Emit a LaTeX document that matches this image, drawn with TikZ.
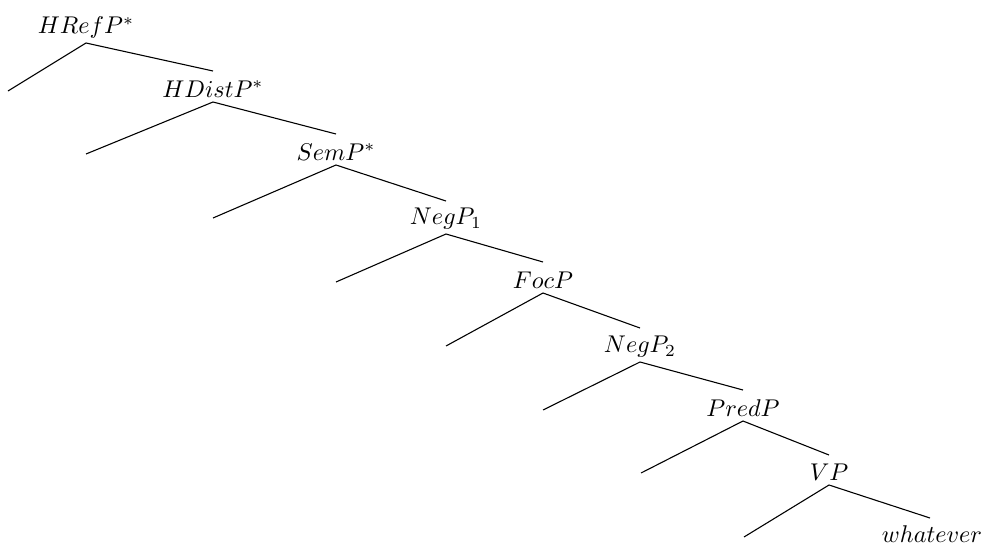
\documentclass[tikz,border=0pt]{standalone}
\begin{document}
\begin{tikzpicture}[x=0.4132pt,y=-0.4132pt,
  lbl/.style={anchor=south,inner sep=1.6pt},
  edge/.style={draw=black,line width=0.45pt}]
\useasboundingbox (0,0) rectangle (984,546);
% apexes
\coordinate (a1) at (86,43);
\coordinate (a2) at (213,102);
\coordinate (a3) at (336,165);
\coordinate (a4) at (446,234);
\coordinate (a5) at (543,293);
\coordinate (a6) at (640,362);
\coordinate (a7) at (743,421);
\coordinate (a8) at (829,485);
% right ends
\coordinate (r1) at (213,71);
\coordinate (r2) at (336,134);
\coordinate (r3) at (446,201);
\coordinate (r4) at (543,262);
\coordinate (r5) at (640,328);
\coordinate (r6) at (743,390);
\coordinate (r7) at (829,455);
\coordinate (r8) at (930,518);
% left ends
\coordinate (l1) at (8,91);
\coordinate (l2) at (86,154);
\coordinate (l3) at (213,218);
\coordinate (l4) at (336,282);
\coordinate (l5) at (446,346);
\coordinate (l6) at (543,410);
\coordinate (l7) at (641,473);
\coordinate (l8) at (744,537);
% labels
\node[lbl] (n1) at (a1) {$HRefP^{*}$};
\node[lbl] (n2) at (a2) {$HDistP^{*}$};
\node[lbl] (n3) at (a3) {$SemP^{*}$};
\node[lbl] (n4) at (a4) {$NegP_{1}$};
\node[lbl] (n5) at (a5) {$FocP$};
\node[lbl] (n6) at (a6) {$NegP_{2}$};
\node[lbl] (n7) at (a7) {$PredP$};
\node[lbl] (n8) at (a8) {$VP$};
\node[anchor=base,inner sep=0pt] (n9) at (932,542) {$whatever$};
% edges
\foreach \i in {1,...,8}{
  \draw[edge] (l\i) -- (a\i) -- (r\i);
}
\end{tikzpicture}
\end{document}
